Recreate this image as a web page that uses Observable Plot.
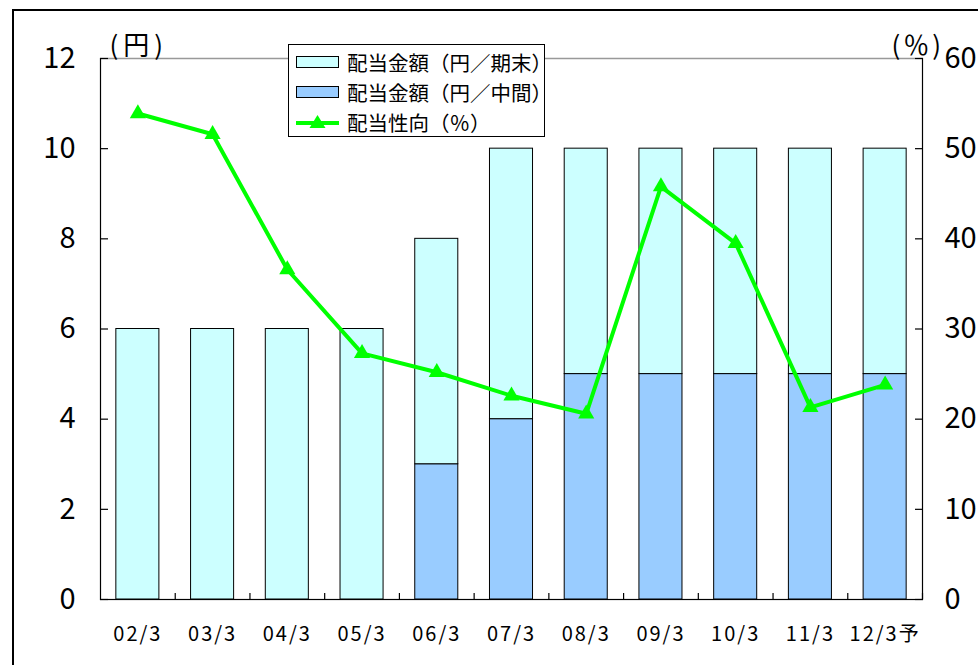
<!DOCTYPE html>
<html>
<head>
<meta charset="utf-8">
<script src="https://cdn.jsdelivr.net/npm/d3@7"></script>
<script src="https://cdn.jsdelivr.net/npm/@observablehq/plot@0.6"></script>
<style>
  html, body { margin: 0; padding: 0; background: #fff; }
  #wrap { position: relative; width: 978px; height: 665px; overflow: hidden; font-family: "Noto Sans CJK JP", sans-serif; }
  #wrap svg.plot { position: absolute; left: 0; top: 0; }
  #outer { position: absolute; left: 12px; top: 9px; width: 2000px; height: 2000px; border-left: 2px solid #000; border-top: 2px solid #000; pointer-events: none; }
  #legend { position: absolute; left: 288px; top: 44px; width: 255px; height: 91px; border: 1px solid #000; background: #fff; box-sizing: content-box; }
  #legend .row { position: absolute; left: 0; height: 30px; display: flex; align-items: center; font-size: 20.5px; color: #000; white-space: nowrap; }
  #legend .sw { width: 41px; height: 10px; border: 1px solid #000; margin-left: 7px; margin-right: 8px; }
  #legend svg { margin-left: 7px; margin-right: 8px; }
</style>
</head>
<body>
<div id="wrap">
  <div id="outer"></div>
</div>
<script>
// ---- data ----
const categories = ["02/3", "03/3", "04/3", "05/3", "06/3", "07/3", "08/3", "09/3", "10/3", "11/3", "12/3予"];
const interimDividend = [0, 0, 0, 0, 3, 4, 5, 5, 5, 5, 5];   // 配当金額(円/中間)
const yearEndDividend = [6, 6, 6, 6, 5, 6, 5, 5, 5, 5, 5];   // 配当金額(円/期末)
const payoutRatio = [53.9, 51.6, 36.6, 27.3, 25.2, 22.6, 20.6, 45.8, 39.5, 21.3, 23.8]; // 配当性向(%)
const yenTicks = [0, 2, 4, 6, 8, 10, 12];
const pctTicks = [0, 10, 20, 30, 40, 50, 60];
const seriesNames = ["配当金額（円／中間）", "配当金額（円／期末）", "配当性向（％）"];
const seriesColors = ["#99CCFF", "#CCFFFF", "#00FF00"];
const unitLeft = "(円)";
const unitRight = "(％)";

const RATIO = 12 / 60; // left axis max / right axis max

// ---- tables built from arrays ----
const barRows = [];
categories.forEach((c, i) => {
  if (interimDividend[i] > 0) barRows.push({cat: c, series: seriesNames[0], value: interimDividend[i]});
  if (yearEndDividend[i] > 0) barRows.push({cat: c, series: seriesNames[1], value: yearEndDividend[i]});
});
const lineRows = categories.map((c, i) => ({cat: c, pct: payoutRatio[i]}));

const W = 978, H = 665;
const M = {left: 100, right: 56, top: 58, bottom: 66};
const xOpts = {type: "band", domain: categories, paddingInner: 0.424, paddingOuter: 0.212, round: false};
const step = Plot.scale({x: {...xOpts, range: [M.left, W - M.right]}}).step;

const chart = Plot.plot({
  width: W,
  height: H,
  marginLeft: M.left,
  marginRight: M.right,
  marginTop: M.top,
  marginBottom: M.bottom,
  style: {fontFamily: "'Noto Sans CJK JP', sans-serif", background: "transparent", color: "#000"},
  x: {...xOpts, axis: null},
  y: {domain: [0, 12], axis: null},
  color: {domain: seriesNames.slice(0, 2), range: seriesColors.slice(0, 2)},
  marks: [
    Plot.frame({stroke: "#000", strokeWidth: 1.2}),
    Plot.ruleY([12], {stroke: "#999", strokeWidth: 1.2}),
    Plot.barY(barRows, {x: "cat", y: "value", fill: "series", stroke: "#000", strokeWidth: 1}),
    // inward ticks
    Plot.axisY({anchor: "left", ticks: yenTicks, tickSize: 8, dx: 8, fill: "none", label: null, strokeWidth: 1.2}),
    Plot.axisY({anchor: "right", ticks: yenTicks, tickSize: 8, dx: -8, fill: "none", label: null, strokeWidth: 1.2}),
    Plot.axisX({anchor: "bottom", tickSize: 6, dx: step / 2, dy: -6, fill: "none", label: null, strokeWidth: 1.2}),
    // tick labels
    Plot.axisY({anchor: "left", ticks: yenTicks, tickSize: 0, tickPadding: 25, fontSize: 29, label: null}),
    Plot.axisY({anchor: "right", ticks: yenTicks, tickSize: 0, tickPadding: 22, fontSize: 29, label: null,
      tickFormat: d => String(pctTicks[yenTicks.indexOf(d)])}),
    Plot.axisX({anchor: "bottom", tickSize: 0, tickPadding: 27, fontSize: 20, label: null}),
    // unit labels
    Plot.text([unitLeft], {frameAnchor: "top-left", textAnchor: "start", dx: 9, dy: -22, fontSize: 26}),
    Plot.text([unitRight], {frameAnchor: "top-right", textAnchor: "start", dx: -31, dy: -22, fontSize: 26}),
    // payout ratio line
    Plot.line(lineRows, {x: "cat", y: d => d.pct * RATIO, stroke: seriesColors[2], strokeWidth: 4}),
    Plot.dot(lineRows, {x: "cat", y: d => d.pct * RATIO, symbol: "triangle", r: 6, fill: seriesColors[2], stroke: "none"})
  ]
});
chart.classList.add("plot");
// letter spacing tweaks
d3.select(chart).selectAll('g[aria-label="x-axis tick label"] text').attr("letter-spacing", 2);
d3.select(chart).selectAll("text").filter(function () { return this.textContent === unitLeft; }).attr("letter-spacing", 5);
d3.select(chart).selectAll("text").filter(function () { return this.textContent === unitRight; }).attr("letter-spacing", 3);

const wrap = document.getElementById("wrap");
wrap.insertBefore(chart, wrap.firstChild);

// legend
const legend = document.createElement("div");
legend.id = "legend";
const order = [1, 0, 2];
order.forEach((si, k) => {
  const row = document.createElement("div");
  row.className = "row";
  row.style.top = (2 + k * 30) + "px";
  if (si < 2) {
    const sw = document.createElement("div");
    sw.className = "sw";
    sw.style.background = seriesColors[si];
    row.appendChild(sw);
  } else {
    const ns = "http://www.w3.org/2000/svg";
    const s = document.createElementNS(ns, "svg");
    s.setAttribute("width", 43); s.setAttribute("height", 16);
    const l = document.createElementNS(ns, "line");
    l.setAttribute("x1", 0); l.setAttribute("x2", 43); l.setAttribute("y1", 9); l.setAttribute("y2", 9);
    l.setAttribute("stroke", seriesColors[2]); l.setAttribute("stroke-width", 4);
    const t = document.createElementNS(ns, "path");
    t.setAttribute("d", "M21.5,1 L29.5,14 L13.5,14 Z");
    t.setAttribute("fill", seriesColors[2]);
    s.appendChild(l); s.appendChild(t);
    row.appendChild(s);
  }
  const tx = document.createElement("span");
  tx.textContent = seriesNames[si];
  row.appendChild(tx);
  legend.appendChild(row);
});
wrap.appendChild(legend);
</script>
</body>
</html>
